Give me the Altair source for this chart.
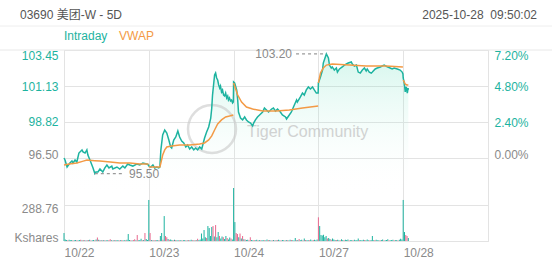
import altair as alt
import pandas as pd

# ---------------- data ----------------
DAY_LABELS = ["10/22", "10/23", "10/24", "10/27", "10/28"]
SESSION_MIN = 330
PREV_CLOSE = 96.50
PRICE_TICKS = [96.50, 98.82, 101.13, 103.45]
PCT_TICKS = [0.0, 0.024, 0.048, 0.072]
VOL_TICKS = [0, 288.76]
TITLE = "03690 美团-W - 5D"
STAMP = "2025-10-28\u00a0 09:50:02"
WATERMARK = "Tiger Community"

# intraday price, minute of session -> price
d1_min = [0, 4, 12, 23, 31, 35, 43, 50, 58, 70, 74, 82, 89, 93, 101, 113, 120, 124, 132, 140,
          151, 159, 167, 175, 186, 190, 206, 217, 229, 237, 248, 256, 268, 283, 295, 307, 322, 329]
d1_px = [96.50, 96.37, 95.92, 96.18, 96.31, 96.18, 96.37, 96.24, 96.82, 97.02, 96.89, 96.82, 97.02, 96.69,
         96.37, 95.86, 95.50, 95.60, 95.60, 95.79, 95.60, 95.86, 96.05, 95.86, 95.98, 95.79, 95.92, 95.79,
         95.98, 95.86, 96.11, 96.05, 95.98, 96.11, 96.05, 96.18, 96.11, 96.05]
d2_min = [0, 8, 16, 23, 31, 39, 43, 47, 54, 62, 70, 78, 85, 89, 97, 105, 113, 120, 128, 136, 144, 151,
          159, 167, 175, 182, 190, 198, 206, 210, 217, 225, 233, 241, 245, 248, 252, 256, 260, 264, 268,
          272, 276, 279, 283, 287, 291, 295, 299, 303, 307, 310, 314, 318, 322, 326, 329]
d2_px = [95.98, 95.92, 96.05, 95.86, 95.92, 95.86, 95.92, 97.02, 97.98, 98.30, 98.11, 97.66, 97.21, 97.14,
         97.66, 97.85, 98.24, 97.85, 97.59, 97.47, 97.21, 97.34, 97.08, 97.21, 97.02, 97.14, 97.02, 97.21,
         97.08, 97.34, 97.79, 98.17, 98.50, 99.07, 99.72, 100.55, 101.20, 101.84, 101.97, 101.65, 101.52,
         101.20, 101.00, 101.13, 100.75, 100.88, 100.55, 100.49, 100.68, 100.36, 100.49, 100.23, 100.36,
         100.17, 100.23, 100.04, 100.10]
d3_min = [0, 4, 12, 16, 19, 27, 35, 43, 50, 58, 66, 74, 78, 85, 93, 101, 113, 120, 128, 136, 148, 155,
          163, 171, 182, 190, 202, 206, 214, 225, 233, 245, 248, 260, 268, 275, 283, 291, 299, 307, 314,
          322, 329]
d3_px = [101.39, 101.33, 100.88, 100.23, 99.46, 99.07, 98.95, 99.14, 98.95, 98.82, 98.75, 98.56, 98.75,
         98.95, 99.14, 99.27, 99.46, 99.72, 99.59, 99.46, 99.65, 99.72, 99.52, 99.65, 99.46, 99.27, 99.14,
         99.01, 99.20, 99.46, 99.78, 100.23, 100.10, 100.43, 100.68, 100.55, 100.88, 101.07, 100.94,
         101.07, 100.88, 100.68, 100.68]
d4_min = [0, 8, 16, 19, 27, 31, 39, 43, 50, 54, 62, 70, 74, 82, 93, 101, 109, 116, 128, 132, 140, 148,
          155, 163, 171, 179, 186, 190, 198, 206, 210, 221, 229, 241, 248, 256, 268, 279, 287, 295, 307,
          318, 326, 329]
d4_px = [101.33, 101.71, 102.16, 102.61, 103.00, 103.20, 102.94, 102.48, 102.29, 102.36, 102.16, 102.29,
         102.03, 102.23, 102.36, 102.48, 102.55, 102.61, 102.68, 102.55, 102.42, 102.48, 102.03, 101.97,
         102.16, 102.29, 102.10, 102.23, 102.03, 101.97, 102.03, 102.23, 102.29, 102.36, 102.42, 102.48,
         102.36, 102.29, 102.23, 102.29, 102.23, 102.16, 102.03, 101.91]
d5_min = [0, 4, 8, 12, 16, 19, 20]
d5_px = [101.65, 101.33, 100.75, 101.07, 100.68, 101.00, 100.88]

# VWAP per day
v1_min = [0, 20, 50, 75, 89, 120, 140, 180, 217, 256, 295, 329]
v1_px = [96.05, 96.11, 96.18, 96.30, 96.37, 96.33, 96.31, 96.24, 96.18, 96.18, 96.11, 96.11]
v2_min = [0, 43, 47, 54, 62, 70, 89, 120, 159, 198, 217, 233, 245, 256, 268, 283, 299, 314, 329]
v2_px = [95.92, 95.92, 96.18, 96.69, 97.02, 97.21, 97.27, 97.34, 97.34, 97.40, 97.47, 97.66, 97.92,
         98.30, 98.69, 98.95, 99.14, 99.20, 99.27]
v3_min = [0, 16, 31, 50, 74, 113, 167, 217, 268, 329]
v3_px = [101.33, 100.55, 100.10, 99.78, 99.65, 99.52, 99.52, 99.59, 99.72, 99.85]
v4_min = [0, 8, 19, 31, 54, 120, 186, 264, 329]
v4_px = [101.33, 101.97, 102.29, 102.48, 102.55, 102.48, 102.42, 102.42, 102.36]
v5_min = [0, 4, 8, 14, 20]
v5_px = [101.52, 101.39, 101.26, 101.20, 101.20]

# volume (K shares) per 5-minute bucket; negative = down tick
vol1 = [64, 12, 8, -6, 10, 6, 8, -5, 6, 8, -6, 5, 8, -10, 6, -8, 5, -6, 6, -8,
        10, -5, 6, 8, -6, 12, -28, 10, -8, 6, -5, 8, -6, 5, 6, -8, -14, 6, -5, 8,
        -6, 5, 8, -5, 6, -8, 5, 6, -6, 10, 56, 8, -6, 5, -8, -14, 6, -48, 5, 8,
        18, -6, 8, -64, 16, 8]
vol2 = [329, -64, 8, -6, 6, -8, 5, 8, -6, 40, 64, -10, 200, -40, -30, 16, -10, 12, 8, -6,
        10, -8, 6, 5, -6, 8, -5, 6, 8, -6, 5, -8, 6, 10, -6, 5, -8, 6, -18, 8,
        12, 60, 20, 88, 30, -24, 120, 104, 40, 112, -120, 36, -128, 30, 72, -40, 20, 36, -30, 16,
        40, -24, 12, 28, -20, 12]
vol3 = [425, 152, -64, -56, 30, -60, 20, -40, 14, -12, 8, 10, -6, -30, 8, 6, -8, 5, 10, -6,
        8, -5, 6, 8, -6, 5, 12, -8, 6, 5, -6, 8, -5, 6, -8, 10, 5, -6, 8, 6,
        -5, 8, -6, 5, 10, -8, 6, 5, 24, -6, 8, -16, 6, 10, -5, 20, -8, 6, 8, -6,
        12, 5, -8, 10, 6, 12]
vol4 = [-190, 120, 48, 44, 50, 30, 40, -20, 24, 16, -10, 20, 12, 8, -8, 10, 6, -6, 14, 8,
        -6, 10, 8, 12, -5, 6, 8, -6, 10, 5, 8, 20, -6, 8, 6, 10, -8, 6, 12, 5,
        -6, 8, 40, 6, -8, 10, 5, 6, -6, 8, 12, -5, 6, 8, 14, -6, 5, 8, 10, -6,
        6, 8, -5, 10, 18, 12]
vol5 = [329, 72, -48, -40, 24]

# ---------------- style ----------------
TEAL = "#1db3a0"
ORANGE = "#f39a45"
PINK = "#e8688e"
GRAY = "#8a8a8a"
DARK = "#555555"
GRID = "#e3e3e3"
FONT = "Liberation Sans, Arial, Noto Sans CJK SC"
W, H = 424, 191
PRICE_TOP = PRICE_TICKS[-1]
PRICE_LO = PRICE_TOP - (PRICE_TOP - PRICE_TICKS[0]) * H / 108.0
FILL_BASE = PRICE_TOP - (PRICE_TOP - PRICE_TICKS[0]) * 146 / 108.0
VOL_TOP = VOL_TICKS[1] * H / 36.0
NDAYS = len(DAY_LABELS)

# ---------------- frames ----------------
rows = []
for d, (ms, ps) in enumerate([(d1_min, d1_px), (d2_min, d2_px), (d3_min, d3_px), (d4_min, d4_px), (d5_min, d5_px)]):
    for m, p in zip(ms, ps):
        rows.append({"t": d * SESSION_MIN + m, "price": p, "day": d})
price_df = pd.DataFrame(rows)
price_df["pct"] = price_df["price"] / PREV_CLOSE - 1

rows = []
for d, (ms, ps) in enumerate([(v1_min, v1_px), (v2_min, v2_px), (v3_min, v3_px), (v4_min, v4_px), (v5_min, v5_px)]):
    for m, p in zip(ms, ps):
        rows.append({"t": d * SESSION_MIN + m, "vwap": p, "day": d})
vwap_df = pd.DataFrame(rows)

rows = []
for d, vs in enumerate([vol1, vol2, vol3, vol4, vol5]):
    for i, v in enumerate(vs):
        rows.append({"t": d * SESSION_MIN + 5 * i, "vol": abs(v), "dir": "up" if v > 0 else "down"})
vol_df = pd.DataFrame(rows)

lo = price_df.loc[price_df["price"].idxmin()]
hi = price_df.loc[price_df["price"].idxmax()]
lo_df = pd.DataFrame([{"t": lo["t"], "t2": lo["t"] + 110, "price": lo["price"], "label": f"{lo['price']:.2f}"}])
hi_df = pd.DataFrame([{"t": hi["t"] - 118, "t2": hi["t"], "price": hi["price"], "label": f"{hi['price']:.2f}"}])

# ---------------- encodings ----------------
label_expr = "[" + ",".join(f"'{s}'" for s in DAY_LABELS + [""]) + "][round(datum.value / %d)]" % SESSION_MIN
x_scale = alt.Scale(domain=[0, NDAYS * SESSION_MIN], nice=False, zero=False)
x_axis = alt.Axis(values=[i * SESSION_MIN for i in range(NDAYS + 1)], labelExpr=label_expr,
                  labelAlign="left", labelBaseline="top", labelFlush=False, labelOverlap=False,
                  labelPadding=6, labelFontSize=12, labelColor=GRAY, labelFont=FONT,
                  grid=True, gridColor=GRID, ticks=False, domain=False, title=None)


def X(field="t"):
    return alt.X(f"{field}:Q", scale=x_scale, axis=x_axis, title=None)


price_scale = alt.Scale(domain=[PRICE_LO, PRICE_TOP], nice=False, zero=False)
price_axis = alt.Axis(
    orient="left", values=PRICE_TICKS, format=".2f", grid=True, gridColor=GRID, ticks=False,
    domain=False, title=None, labelPadding=6, labelFontSize=12, labelFont=FONT,
    labelColor={"condition": {"test": f"datum.value > {PREV_CLOSE + 0.01}", "value": TEAL}, "value": GRAY},
    labelBaseline={"condition": [{"test": f"datum.value >= {PRICE_TOP - 0.01}", "value": "top"},
                                 {"test": f"datum.value <= {PREV_CLOSE + 0.01}", "value": "alphabetic"}],
                   "value": "middle"})


def PY(field):
    return alt.Y(f"{field}:Q", scale=price_scale, axis=price_axis, title=None)


pct_top = PRICE_TOP / PREV_CLOSE - 1
pct_scale = alt.Scale(domain=[PRICE_LO / PREV_CLOSE - 1, pct_top], nice=False, zero=False)
pct_axis = alt.Axis(
    orient="right", values=PCT_TICKS, format=".2%", grid=False, ticks=False, domain=False, title=None,
    labelPadding=6, labelFontSize=12, labelFont=FONT,
    labelColor={"condition": {"test": "datum.value > 0.001", "value": TEAL}, "value": GRAY},
    labelBaseline={"condition": [{"test": f"datum.value >= {PCT_TICKS[-1] - 0.0005}", "value": "top"},
                                 {"test": "datum.value <= 0.001", "value": "alphabetic"}],
                   "value": "middle"})
vol_scale = alt.Scale(domain=[0, VOL_TOP], nice=False, zero=True)
vol_axis = alt.Axis(
    orient="left", values=VOL_TICKS, labelExpr="datum.value == 0 ? 'Kshares' : format(datum.value, '.2f')",
    grid=True, gridColor=GRID, ticks=False, domain=False, title=None, labelPadding=6, labelFontSize=12,
    labelFont=FONT, labelColor=GRAY,
    labelOffset={"condition": {"test": "datum.value == 0", "value": 0}, "value": 3},
    labelBaseline={"condition": {"test": "datum.value == 0", "value": "alphabetic"}, "value": "middle"})

# ---------------- layers ----------------
area = alt.Chart(price_df).mark_area(
    color=alt.Gradient(gradient="linear",
                       stops=[alt.GradientStop(color="rgba(60,215,170,0.22)", offset=0),
                              alt.GradientStop(color="rgba(255,255,255,0)", offset=1)],
                       x1=1, x2=1, y1=0, y2=1)
).encode(x=X(), y=PY("price"), y2=alt.datum(FILL_BASE))

line = alt.Chart(price_df).mark_line(color=TEAL, strokeWidth=1.5).encode(x=X(), y=PY("price"))

vwap = alt.Chart(vwap_df).mark_line(color=ORANGE, strokeWidth=1.5).encode(
    x=X(), y=PY("vwap"), detail="day:N")

lo_rule = alt.Chart(lo_df).mark_rule(color="#9a9a9a", strokeDash=[3, 3], strokeWidth=1.2).encode(
    x=X(), x2="t2:Q", y=PY("price"))
lo_text = alt.Chart(lo_df).mark_text(align="left", baseline="middle", dx=6, fontSize=12, font=FONT,
                                     color=GRAY).encode(x=X("t2"), y=PY("price"), text="label:N")
hi_rule = alt.Chart(hi_df).mark_rule(color="#9a9a9a", strokeDash=[3, 3], strokeWidth=1.2).encode(
    x=X(), x2="t2:Q", y=PY("price"))
hi_text = alt.Chart(hi_df).mark_text(align="right", baseline="middle", dx=-4, fontSize=12, font=FONT,
                                     color=GRAY).encode(x=X(), y=PY("price"), text="label:N")

one = pd.DataFrame({"k": [0]})
sep1 = alt.Chart(one).mark_rule(color="#eeeeee", strokeWidth=1).encode(
    x=alt.value(-64), x2=alt.value(W + 64), y=alt.value(-24))
sep2 = alt.Chart(one).mark_rule(color="#e8e8e8", strokeWidth=1).encode(
    x=alt.value(-64), x2=alt.value(W + 64), y=alt.value(0))
title_t = alt.Chart(pd.DataFrame({"s": [TITLE]})).mark_text(
    align="left", baseline="middle", fontSize=12, font=FONT, color=DARK).encode(
    x=alt.value(-44), y=alt.value(-35), text="s:N")
stamp_t = alt.Chart(pd.DataFrame({"s": [STAMP]})).mark_text(
    align="right", baseline="middle", fontSize=12, font=FONT, color=DARK).encode(
    x=alt.value(473), y=alt.value(-35), text="s:N")
leg1 = alt.Chart(pd.DataFrame({"s": ["Intraday"]})).mark_text(
    align="left", baseline="middle", fontSize=12, font=FONT, color=TEAL).encode(
    x=alt.value(0), y=alt.value(-14), text="s:N")
leg2 = alt.Chart(pd.DataFrame({"s": ["VWAP"]})).mark_text(
    align="left", baseline="middle", fontSize=12, font=FONT, color=ORANGE).encode(
    x=alt.value(55), y=alt.value(-14), text="s:N")
wm_ring = alt.Chart(one).mark_point(shape="circle", filled=False, size=2300, strokeWidth=2.5,
                                    color="#c9c9c9", opacity=0.6).encode(
    x=alt.value(148), y=alt.value(79))
wm_text = alt.Chart(pd.DataFrame({"s": [WATERMARK]})).mark_text(
    align="left", baseline="middle", fontSize=16, font=FONT, color="#c4c4c4", opacity=0.75).encode(
    x=alt.value(183), y=alt.value(82), text="s:N")

price_layer = alt.layer(sep1, sep2, title_t, stamp_t, leg1, leg2, area, wm_ring, wm_text,
                        line, vwap, lo_rule, lo_text, hi_rule, hi_text)

pct_layer = alt.Chart(price_df).mark_line(opacity=0).encode(
    x=X(), y=alt.Y("pct:Q", scale=pct_scale, axis=pct_axis, title=None))

vol_layer = alt.Chart(vol_df).mark_rule(strokeWidth=1).encode(
    x=X(), y=alt.Y("vol:Q", scale=vol_scale, axis=vol_axis, title=None), y2=alt.datum(0),
    color=alt.Color("dir:N", scale=alt.Scale(domain=["up", "down"], range=[TEAL, PINK]), legend=None))

chart = alt.layer(vol_layer, price_layer, pct_layer).resolve_scale(y="independent").properties(
    width=W, height=H,
    padding={"left": 64, "top": 50, "right": 64, "bottom": 24},
    autosize=alt.AutoSizeParams(type="none"),
    background="white",
).configure_view(stroke=GRID).configure_axis(labelFont=FONT)

chart.save("out.html", embed_options={"renderer": "svg", "actions": False})
